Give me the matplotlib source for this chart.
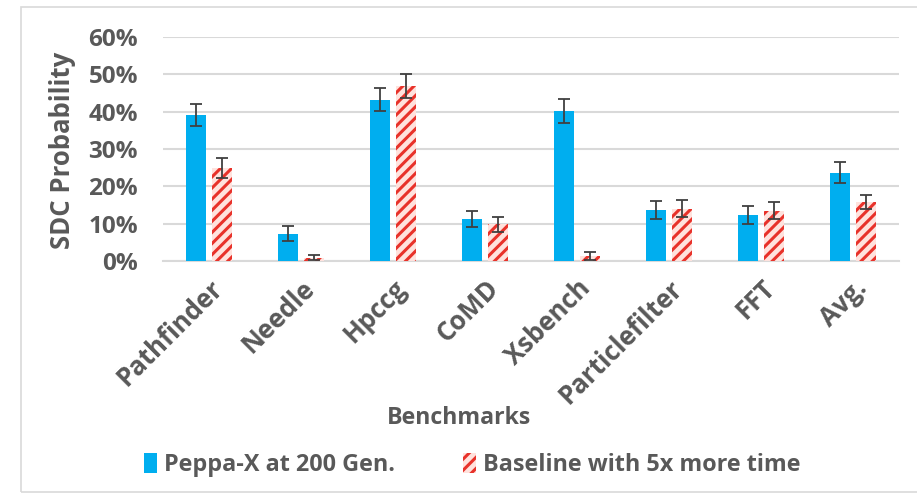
import numpy as np
import matplotlib.pyplot as plt
from matplotlib.patches import Rectangle

benchmarks = ['Pathfinder', 'Needle', 'Hpccg', 'CoMD', 'Xsbench',
              'Particlefilter', 'FFT', 'Avg.']
peppa = [39.1, 7.3, 43.2, 11.2, 40.2, 13.7, 12.3, 23.7]
peppa_err = [3.0, 2.0, 3.1, 2.2, 3.2, 2.5, 2.4, 2.8]
baseline = [24.9, 0.9, 46.8, 9.8, 1.3, 14.0, 13.5, 15.8]
baseline_err = [2.8, 0.7, 3.2, 2.1, 1.0, 2.3, 2.3, 2.0]
yticks = [0, 10, 20, 30, 40, 50, 60]

grey = '#595959'
blue = '#00AEEF'
red = '#E8322A'

plt.rcParams['font.family'] = ['Open Sans', 'DejaVu Sans']
plt.rcParams['font.weight'] = 'bold'
plt.rcParams['hatch.linewidth'] = 2.2

fig = plt.figure(figsize=(9.17, 4.99), dpi=100)
fig.patches.append(Rectangle((21 / 917, 1 - 492 / 499), 1.0, 485 / 499,
                             transform=fig.transFigure, fill=False,
                             edgecolor='#D9D9D9', lw=1.2))
ax = fig.add_axes([163 / 917, 1 - 261 / 499, 736 / 917, 224 / 499])

x = np.arange(len(benchmarks))
w = 0.22
off = 0.138
ekw = dict(ecolor='#404040', elinewidth=1.3, capsize=4, capthick=1.3)
ax.bar(x - off, peppa, w, color=blue, yerr=peppa_err, error_kw=ekw,
       label='Peppa-X at 200 Gen.', zorder=3)
ax.bar(x + off, baseline, w, facecolor='#FFE2DD', edgecolor=red, lw=0,
       hatch='///', yerr=baseline_err, error_kw=ekw,
       label='Baseline with 5x more time', zorder=3)

ax.set_xlim(-0.5, len(benchmarks) - 0.5)
ax.set_ylim(0, 60)
ax.set_yticks(yticks)
ax.set_yticklabels([f'{t}%' for t in yticks])
ax.set_xticks(x)
ax.set_xticklabels(benchmarks, rotation=45, ha='right', rotation_mode='anchor')
ax.tick_params(axis='y', length=0, labelsize=17.5, labelcolor=grey, pad=18)
ax.tick_params(axis='x', length=0, labelsize=18.5, labelcolor=grey, pad=10)
ax.grid(axis='y', color='#D9D9D9', lw=1.5, zorder=0)
for s in ['top', 'right', 'left']:
    ax.spines[s].set_visible(False)
ax.spines['bottom'].set_color('#D9D9D9')
ax.spines['bottom'].set_linewidth(1.5)

fig.text(63 / 917, 1 - 150 / 499, 'SDC Probability', fontsize=18.5,
         color=grey, rotation=90, ha='center', va='center', fontweight='bold')
fig.text(459 / 917, 1 - 418 / 499, 'Benchmarks', fontsize=16.7, color=grey,
         ha='center', va='center', fontweight='bold')
fig.legend(loc='center', bbox_to_anchor=(0.515, 1 - 465 / 499), ncol=2,
           frameon=False, fontsize=16.8, labelcolor=grey, handlelength=0.55,
           handleheight=0.9, handletextpad=0.3, columnspacing=2.9)

fig.savefig('out.png', dpi=100)
